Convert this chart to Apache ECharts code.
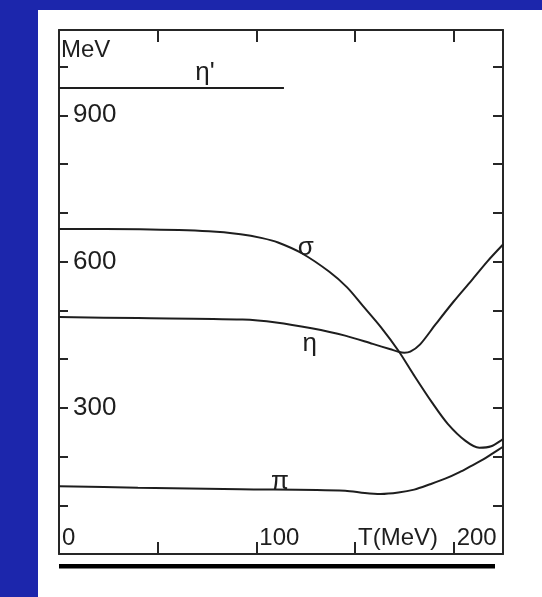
<!DOCTYPE html>
<html>
<head>
<meta charset="utf-8">
<script src="https://cdn.jsdelivr.net/npm/echarts@6/dist/echarts.min.js"></script>
<style>
  html, body { margin: 0; padding: 0; background: #ffffff; }
  #chart { width: 542px; height: 597px; }
</style>
</head>
<body>
<div id="chart"></div>
<script>
// Meson masses (MeV) as functions of the temperature T (MeV)
const sigmaCurve = [
  [0, 667], [41, 666], [76, 662], [92, 656], [103, 648], [111, 639], [123, 617],
  [137, 579], [146, 547], [154, 509], [163, 466], [172, 417], [180, 366],
  [189, 311], [197, 267], [206, 232], [213, 218], [219, 221], [225, 236]
];
const etaCurve = [
  [0, 486], [40, 484], [93, 481], [110, 475], [128, 463], [145, 448], [159, 431],
  [168, 420], [172, 415], [175, 413], [178, 415], [183, 430], [191, 472],
  [200, 518], [209, 561], [217, 600], [225, 635]
];
const piCurve = [
  [0, 139], [40, 136], [92, 133], [145, 130], [155, 125], [163, 123], [172, 126],
  [180, 132], [188, 143], [196, 155], [203, 168], [209, 181], [215, 194],
  [220, 207], [225, 220]
];
const etaPrimeCurve = [[0, 956], [114, 956]];

// Names written next to the curves, at (T, mass)
const curveNames = ["η'", "σ", "η", "π"];
const curveNameAt = [[74, 987], [125, 628], [127, 431], [112, 149]];

// Axis ranges and tick labels
const tRange = [0, 225];
const massRange = [0, 1075];
const xTickLabels = { 0: '0', 100: '100', 150: 'T(MeV)', 200: '200' };
const yTickLabels = { 300: '300', 600: '600', 900: '900' };
const massUnit = 'MeV';

const ink = '#1e1e1e';
const font = 'Liberation Sans';
const frameLine = { show: true, onZero: false, lineStyle: { color: '#262626', width: 2 } };

function curve(data) {
  return {
    type: 'line',
    data: data,
    showSymbol: false,
    smooth: 0.3,
    lineStyle: { color: ink, width: 2 },
    silent: true,
    animation: false
  };
}

const chart = echarts.init(document.getElementById('chart'));
chart.setOption({
  animation: false,
  backgroundColor: '#ffffff',
  grid: { left: 59, right: 39, top: 30, bottom: 43 },
  xAxis: [
    {
      type: 'value', position: 'bottom',
      min: tRange[0], max: tRange[1], interval: 50,
      axisLine: frameLine,
      axisTick: { show: true, inside: true, length: 12, lineStyle: { color: '#262626', width: 2 } },
      axisLabel: {
        show: true, inside: true, margin: 4, align: 'left', padding: [0, 0, 0, 3],
        fontFamily: font, fontSize: 24, color: ink,
        formatter: v => xTickLabels[v] || ''
      },
      splitLine: { show: false }
    },
    {
      type: 'value', position: 'top',
      min: tRange[0], max: tRange[1], interval: 50,
      axisLine: frameLine,
      axisTick: { show: true, inside: true, length: 12, lineStyle: { color: '#262626', width: 2 } },
      axisLabel: { show: false },
      splitLine: { show: false }
    }
  ],
  yAxis: [
    {
      type: 'value', position: 'left',
      min: massRange[0], max: massRange[1], interval: 100,
      name: massUnit, nameLocation: 'end', nameGap: -8,
      nameTextStyle: {
        align: 'left', verticalAlign: 'top', padding: [0, 0, 0, 2],
        fontFamily: font, fontSize: 24, color: ink
      },
      axisLine: frameLine,
      axisTick: { show: true, inside: true, length: 9, lineStyle: { color: '#262626', width: 2 } },
      axisLabel: {
        show: true, inside: true, margin: 14,
        fontFamily: font, fontSize: 26, color: ink,
        formatter: v => yTickLabels[v] || ''
      },
      splitLine: { show: false }
    },
    {
      type: 'value', position: 'right',
      min: massRange[0], max: massRange[1], interval: 100,
      axisLine: frameLine,
      axisTick: { show: true, inside: true, length: 10, lineStyle: { color: '#262626', width: 2 } },
      axisLabel: { show: false },
      splitLine: { show: false }
    }
  ],
  series: [
    curve(sigmaCurve),
    curve(etaCurve),
    curve(piCurve),
    curve(etaPrimeCurve),
    {
      type: 'scatter',
      symbolSize: 0,
      silent: true,
      itemStyle: { color: ink, opacity: 1 },
      data: curveNames.map((n, i) => ({ name: n, value: curveNameAt[i] })),
      label: {
        show: true, position: 'inside', formatter: '{b}', opacity: 1,
        fontFamily: font, fontSize: 26, color: ink
      }
    }
  ],
  graphic: [
    // blue slide backdrop along the left and top edges
    { type: 'rect', shape: { x: 0, y: 0, width: 542, height: 10 }, style: { fill: '#1c26ac' }, silent: true },
    { type: 'rect', shape: { x: 0, y: 0, width: 38, height: 597 }, style: { fill: '#1c26ac' }, silent: true },
    // rule under the figure
    { type: 'rect', shape: { x: 59, y: 564, width: 436, height: 4.5 }, style: { fill: '#000000' }, silent: true }
  ]
});
</script>
</body>
</html>
